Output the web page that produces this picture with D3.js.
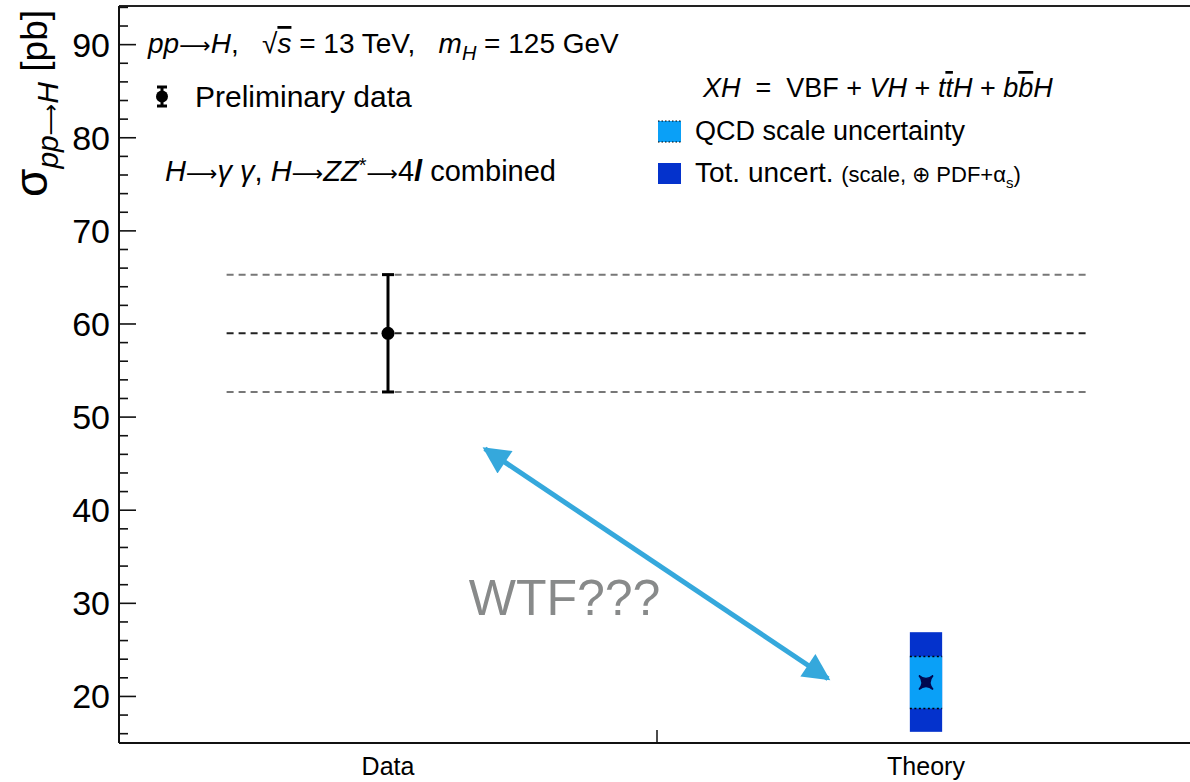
<!DOCTYPE html>
<html>
<head>
<meta charset="utf-8">
<script src="https://cdn.jsdelivr.net/npm/d3@7"></script>
<style>
  body { margin: 0; background: #fff; }
  text { font-family: "Liberation Sans", Arial, Helvetica, sans-serif; fill: #000; }
  .arr { font-family: "DejaVu Sans", sans-serif; }
</style>
</head>
<body>
<div id="chart"></div>
<script>

// categories on the x axis
var categories = ['Data', 'Theory'];

// measured cross section with its error bar (pb)
var dataValue = [59.0];
var dataErr = [52.7, 65.3];

// theory prediction: central value, QCD scale band, total band (pb)
var theoryValue = [21.5];
var theoryScale = [18.7, 24.3];
var theoryTotal = [16.2, 26.9];

// y axis ticks
var yMajor = [20, 30, 40, 50, 60, 70, 80, 90];
var yMinor = d3.range(16, 95, 2).filter(function(v) { return v % 10 !== 0; });

// the "WTF" arrow, in (bin, pb) coordinates
var arrowEnds = [[0.68, 46.6], [1.318, 21.9]];
var wtfLabel = [0.65, 28.7];

var createChart = () => {

  var width = 1190,
      height = 782;

  var svg = d3.select('#chart')
    .append('svg')
    .attr('width', width)
    .attr('height', height);

  // x: two bins, frame runs off the right edge like the original
  var x = d3.scaleBand().domain(categories).range([119, 1195]).padding(0);
  var xBin = d3.scaleLinear().domain([0, 2]).range([119, 1195]);
  var y = d3.scaleLinear().domain([15, 94.15]).range([743, 6]);

  var bw = x.bandwidth();
  var cx = (c) => x(c) + bw / 2;

  // dashed lines across at data value and errors
  var bandLines = [dataErr[0], dataValue[0], dataErr[1]];
  svg.selectAll('line.band')
    .data(bandLines)
    .enter()
    .append('line')
    .attr('class', 'band')
    .attr('x1', xBin(0.2))
    .attr('x2', xBin(1.805))
    .attr('y1', d => y(d))
    .attr('y2', d => y(d))
    .style('stroke', (d, i) => i === 1 ? '#222' : '#777')
    .style('stroke-width', 2)
    .style('stroke-dasharray', '7,5');

  // theory boxes
  var boxW = xBin(0.03) - xBin(0);
  svg.append('rect')
    .attr('x', cx('Theory') - boxW)
    .attr('width', boxW * 2)
    .attr('y', y(theoryTotal[1]))
    .attr('height', y(theoryTotal[0]) - y(theoryTotal[1]))
    .style('fill', '#0432cc');

  svg.append('rect')
    .attr('x', cx('Theory') - boxW)
    .attr('width', boxW * 2)
    .attr('y', y(theoryScale[1]))
    .attr('height', y(theoryScale[0]) - y(theoryScale[1]))
    .style('fill', '#0aa0f7');

  svg.selectAll('line.scale')
    .data(theoryScale)
    .enter()
    .append('line')
    .attr('class', 'scale')
    .attr('x1', cx('Theory') - boxW)
    .attr('x2', cx('Theory') + boxW)
    .attr('y1', d => y(d))
    .attr('y2', d => y(d))
    .style('stroke', '#000')
    .style('stroke-width', 1.5)
    .style('stroke-dasharray', '2,2.5');

  // theory central marker (concave cross)
  svg.append('path')
    .attr('d', 'M-7,-7 Q-1,0 -7,7 Q0,1 7,7 Q1,0 7,-7 Q0,-1 -7,-7 Z')
    .attr('transform', 'translate(' + cx('Theory') + ',' + y(theoryValue[0]) + ')')
    .style('fill', '#000850')
    .style('stroke', '#000850')
    .style('stroke-width', 1.5);

  // data point with error bar
  var g = svg.append('g');
  g.append('line')
    .attr('x1', cx('Data')).attr('x2', cx('Data'))
    .attr('y1', y(dataErr[0])).attr('y2', y(dataErr[1]))
    .style('stroke', '#000').style('stroke-width', 3);
  g.selectAll('line.cap')
    .data(dataErr)
    .enter()
    .append('line')
    .attr('class', 'cap')
    .attr('x1', cx('Data') - 6).attr('x2', cx('Data') + 6)
    .attr('y1', d => y(d)).attr('y2', d => y(d))
    .style('stroke', '#000').style('stroke-width', 3);
  g.append('circle')
    .attr('cx', cx('Data'))
    .attr('cy', y(dataValue[0]))
    .attr('r', 6.5)
    .style('fill', '#000');

  // frame
  svg.append('line')
    .attr('x1', 119).attr('x2', 1195).attr('y1', y.range()[1]).attr('y2', y.range()[1])
    .style('stroke', '#222').style('stroke-width', 2);
  svg.append('line')
    .attr('x1', 119).attr('x2', 1195).attr('y1', y.range()[0]).attr('y2', y.range()[0])
    .style('stroke', '#111').style('stroke-width', 2);
  svg.append('line')
    .attr('x1', 119).attr('x2', 119).attr('y1', y.range()[1]).attr('y2', y.range()[0])
    .style('stroke', '#111').style('stroke-width', 2);

  // y ticks (drawn inward, ROOT style)
  svg.selectAll('line.ymaj')
    .data(yMajor)
    .enter()
    .append('line')
    .attr('x1', 119).attr('x2', 136)
    .attr('y1', d => y(d)).attr('y2', d => y(d))
    .style('stroke', '#111').style('stroke-width', 1.6);
  svg.selectAll('line.ymin')
    .data(yMinor)
    .enter()
    .append('line')
    .attr('x1', 119).attr('x2', 128)
    .attr('y1', d => y(d)).attr('y2', d => y(d))
    .style('stroke', '#111').style('stroke-width', 1.6);
  svg.selectAll('text.ylab')
    .data(yMajor)
    .enter()
    .append('text')
    .attr('x', 110)
    .attr('y', d => y(d) + 12)
    .attr('text-anchor', 'end')
    .style('font-size', '34px')
    .text(d => d);

  // x tick at bin edge, x labels
  svg.append('line')
    .attr('x1', xBin(1)).attr('x2', xBin(1))
    .attr('y1', y.range()[0]).attr('y2', y.range()[0] - 13)
    .style('stroke', '#111').style('stroke-width', 1.5);
  svg.selectAll('text.xlab')
    .data(categories)
    .enter()
    .append('text')
    .attr('x', d => cx(d))
    .attr('y', 775)
    .attr('text-anchor', 'middle')
    .style('font-size', '25px')
    .text(d => d);

  // y title
  var yt = svg.append('text')
    .attr('transform', 'translate(47,10) rotate(-90)')
    .attr('text-anchor', 'end');
  yt.append('tspan').style('font-size', '46px').text('σ');
  yt.append('tspan').attr('dy', 11).style('font-size', '30px').style('font-style', 'italic').text('pp');
  yt.append('tspan').attr('class', 'arr').style('font-size', '22px').text('⟶');
  yt.append('tspan').style('font-size', '30px').style('font-style', 'italic').text('H');
  yt.append('tspan').attr('dy', -11).style('font-size', '37px').text(' [pb]');

  // WTF arrow
  var ax1 = xBin(arrowEnds[0][0]), ay1 = y(arrowEnds[0][1]),
      ax2 = xBin(arrowEnds[1][0]), ay2 = y(arrowEnds[1][1]);
  var defs = svg.append('defs');
  defs.append('marker')
    .attr('id', 'head')
    .attr('viewBox', '0 0 10 10')
    .attr('refX', 9).attr('refY', 5)
    .attr('markerWidth', 6).attr('markerHeight', 5.4)
    .attr('markerUnits', 'strokeWidth')
    .attr('orient', 'auto-start-reverse')
    .append('path')
    .attr('d', 'M0,0 L10,5 L0,10 Z')
    .style('fill', '#35a8dc');
  svg.append('line')
    .attr('x1', ax1).attr('y1', ay1).attr('x2', ax2).attr('y2', ay2)
    .style('stroke', '#35a8dc')
    .style('stroke-width', 5)
    .attr('marker-start', 'url(#head)')
    .attr('marker-end', 'url(#head)');

  svg.append('text')
    .attr('x', xBin(wtfLabel[0]))
    .attr('y', y(wtfLabel[1]))
    .style('font-size', '50px')
    .style('fill', '#888a8a')
    .text('WTF???');

  // header text
  var t1 = svg.append('text').attr('x', 148).attr('y', 53).style('font-size', '28px');
  t1.append('tspan').style('font-style', 'italic').text('pp');
  t1.append('tspan').attr('class', 'arr').style('font-size', '22px').text('⟶');
  t1.append('tspan').style('font-style', 'italic').text('H');
  t1.append('tspan').text(',\u00a0\u00a0\u00a0√');
  t1.append('tspan').style('font-style', 'italic').style('text-decoration', 'overline').text('s');
  t1.append('tspan').text(' = 13 TeV,\u00a0\u00a0\u00a0');
  t1.append('tspan').style('font-style', 'italic').text('m');
  t1.append('tspan').attr('dy', 7).style('font-style', 'italic').style('font-size', '20px').text('H');
  t1.append('tspan').attr('dy', -7).text(' = 125 GeV');

  // data legend
  var lg = svg.append('g');
  lg.append('line').attr('x1', 162).attr('x2', 162).attr('y1', 87).attr('y2', 106)
    .style('stroke', '#000').style('stroke-width', 3);
  lg.selectAll('line.lc').data([87, 106]).enter().append('line')
    .attr('x1', 157).attr('x2', 167).attr('y1', d => d).attr('y2', d => d)
    .style('stroke', '#000').style('stroke-width', 3);
  lg.append('circle').attr('cx', 162).attr('cy', 96.5).attr('r', 6).style('fill', '#000');
  svg.append('text').attr('x', 195).attr('y', 107).style('font-size', '30px').text('Preliminary data');

  var t2 = svg.append('text').attr('x', 165).attr('y', 181).style('font-size', '29px');
  t2.append('tspan').style('font-style', 'italic').text('H');
  t2.append('tspan').attr('class', 'arr').style('font-size', '22px').text('⟶');
  t2.append('tspan').style('font-style', 'italic').text('γ\u00a0γ');
  t2.append('tspan').text(',\u00a0');
  t2.append('tspan').style('font-style', 'italic').text('H');
  t2.append('tspan').attr('class', 'arr').style('font-size', '22px').text('⟶');
  t2.append('tspan').style('font-style', 'italic').text('ZZ');
  t2.append('tspan').attr('dy', -9).style('font-size', '20px').text('*');
  t2.append('tspan').attr('dy', 9).attr('class', 'arr').style('font-size', '22px').text('⟶');
  t2.append('tspan').text('4');
  t2.append('tspan').style('font-style', 'italic').style('font-weight', 'bold').text('l');
  t2.append('tspan').text('\u00a0combined');

  // theory legend
  var t3 = svg.append('text').attr('x', 703).attr('y', 97).style('font-size', '27px');
  t3.append('tspan').style('font-style', 'italic').text('XH');
  t3.append('tspan').text('\u00a0\u00a0=\u00a0\u00a0VBF + ');
  t3.append('tspan').style('font-style', 'italic').text('VH');
  t3.append('tspan').text(' + ');
  t3.append('tspan').style('font-style', 'italic').text('t');
  t3.append('tspan').style('font-style', 'italic').style('text-decoration', 'overline').text('t');
  t3.append('tspan').style('font-style', 'italic').text('H');
  t3.append('tspan').text(' + ');
  t3.append('tspan').style('font-style', 'italic').text('b');
  t3.append('tspan').style('font-style', 'italic').style('text-decoration', 'overline').text('b');
  t3.append('tspan').style('font-style', 'italic').text('H');

  svg.append('rect').attr('x', 658).attr('y', 121).attr('width', 23).attr('height', 21)
    .style('fill', '#0aa0f7');
  svg.selectAll('line.lgs').data([121, 142]).enter().append('line')
    .attr('x1', 658).attr('x2', 681).attr('y1', d => d).attr('y2', d => d)
    .style('stroke', '#000').style('stroke-width', 1.2).style('stroke-dasharray', '1.5,2');
  svg.append('text').attr('x', 695).attr('y', 140).style('font-size', '27px').text('QCD scale uncertainty');

  svg.append('rect').attr('x', 658).attr('y', 163).attr('width', 23).attr('height', 21)
    .style('fill', '#0432cc');
  var t4 = svg.append('text').attr('x', 695).attr('y', 182).style('font-size', '28px');
  t4.append('tspan').text('Tot. uncert. ');
  t4.append('tspan').style('font-size', '22px').text('(scale, ⊕ PDF+α');
  t4.append('tspan').attr('dy', 6).style('font-size', '15px').text('s');
  t4.append('tspan').attr('dy', -6).style('font-size', '22px').text(')');
};

createChart();
</script>
</body>
</html>
